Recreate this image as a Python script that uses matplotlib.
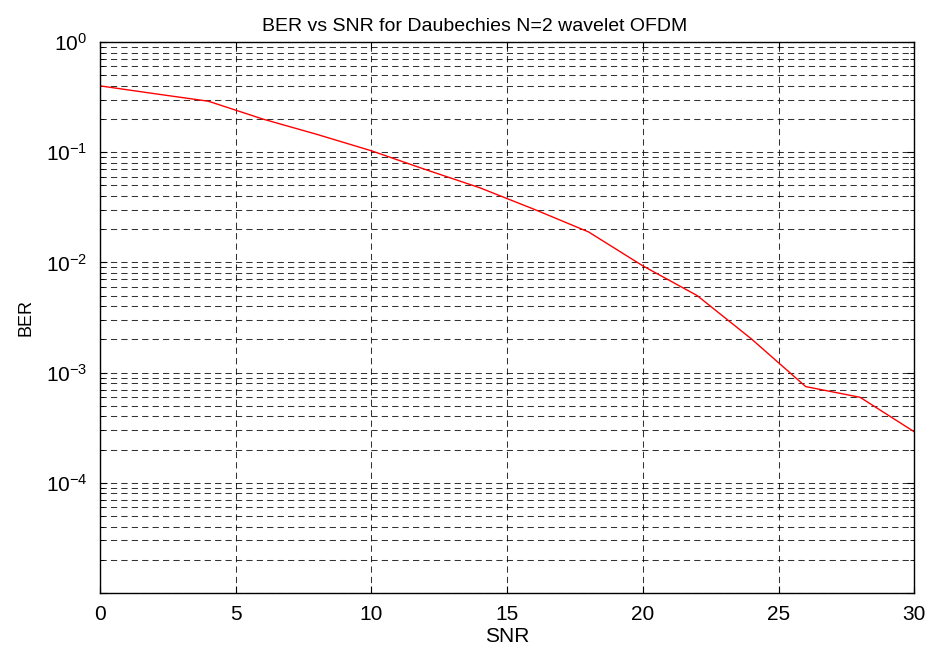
import matplotlib
matplotlib.use("Agg")
import matplotlib.pyplot as plt
from matplotlib.ticker import FixedLocator, NullFormatter

snr = [0, 2, 4, 6, 8, 10, 12, 14, 16, 18, 20, 22, 24, 26, 28, 30]
ber = [0.40, 0.34, 0.29, 0.20, 0.145, 0.103, 0.0695, 0.0475, 0.0303, 0.0189,
       0.0093, 0.0050, 0.00202, 0.000746, 0.000597, 0.00029]

xticks = [0, 5, 10, 15, 20, 25, 30]
yticks = [1e-5, 1e-4, 1e-3, 1e-2, 1e-1, 1e0]
ylabels = ['', r'$10^{-4}$', r'$10^{-3}$', r'$10^{-2}$', r'$10^{-1}$', r'$10^{0}$']

plt.rcParams['font.family'] = ['Liberation Sans', 'DejaVu Sans']
plt.rcParams['mathtext.fontset'] = 'custom'
plt.rcParams['mathtext.rm'] = 'Liberation Sans'
plt.rcParams['mathtext.it'] = 'Liberation Sans'

fig = plt.figure(figsize=(9.33, 6.53), dpi=100)
ax = fig.add_axes([0.107, 0.0919, 0.873, 0.8438])
ax.semilogy(snr, ber, color='red', linewidth=1.0)
ax.set_xlim(0, 30)
ax.set_ylim(1e-5, 1e0)
ax.set_xticks(xticks)
ax.set_yticks(yticks, labels=ylabels)
minors = [m * 10.0 ** e for e in range(-5, 0) for m in range(2, 10)]
ax.yaxis.set_minor_locator(FixedLocator(minors))
ax.yaxis.set_minor_formatter(NullFormatter())

ax.grid(True, which='both', color='black', linestyle=(0, (6, 4)), linewidth=0.75, alpha=0.8)
ax.tick_params(which='both', direction='in', top=True, right=True, labelsize=15)
ax.tick_params(axis='x', which='major', length=5, pad=9)
ax.tick_params(axis='y', which='major', length=5, pad=9)
ax.tick_params(which='minor', length=3)
for s in ax.spines.values():
    s.set_linewidth(1.0)

ax.set_title("BER vs SNR for Daubechies N=2 wavelet OFDM", fontsize=14, pad=8, x=0.46)
ax.set_xlabel("SNR", fontsize=15, labelpad=2)
ax.set_ylabel("BER", fontsize=13, labelpad=8)

fig.savefig("out.png", dpi=100)
